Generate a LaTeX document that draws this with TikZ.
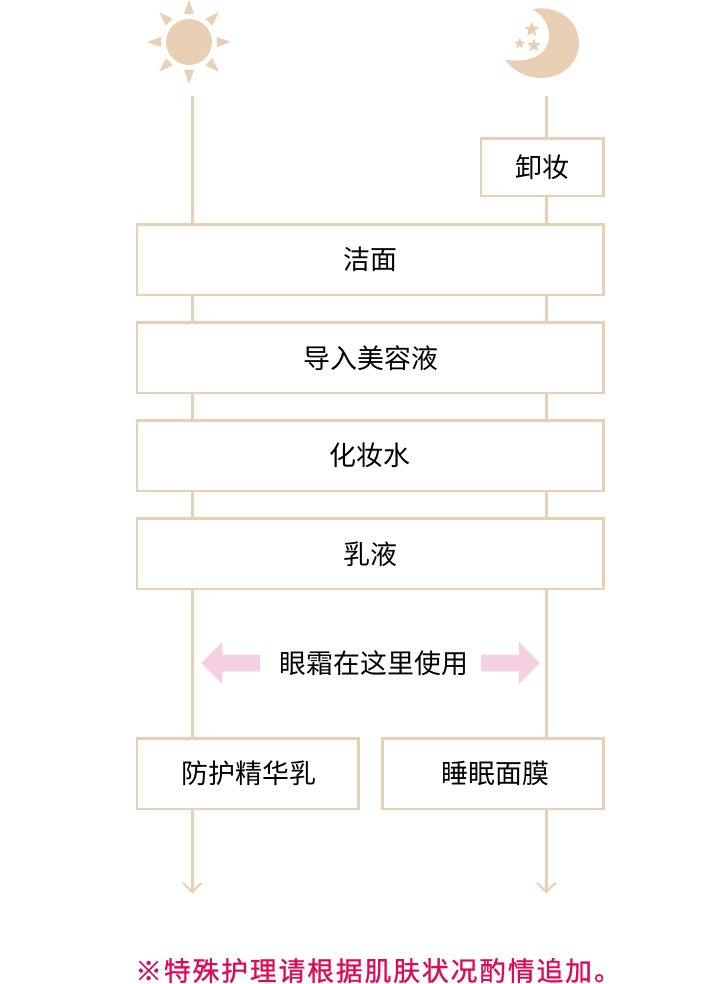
\documentclass[tikz,border=0pt]{standalone}
\usepackage{xcolor}
\usepackage{fontspec}
\setmainfont{Noto Sans CJK SC}
\newfontfamily\notefont[LetterSpace=7.5,FakeBold=1]{Noto Sans CJK SC}
\usepackage{tikz}
\usetikzlibrary{shapes.geometric,shapes.arrows,arrows.meta,positioning}
\definecolor{routetan}{HTML}{E9D0B5}
\definecolor{eyepink}{HTML}{F5D0E1}
\definecolor{notered}{HTML}{DF0A54}

\begin{document}
\begin{tikzpicture}[
  x=0.75pt,y=-0.75pt,
  stepbox/.style={rectangle,draw=routetan,fill=white,line width=1.9pt,outer sep=0pt,minimum width=350pt,minimum height=53pt,align=center,font=\fontsize{20.2pt}{24pt}\selectfont},
  halfbox/.style={stepbox,minimum width=166pt},
  smallbox/.style={stepbox,minimum width=92pt,minimum height=43pt},
  icon/.style={circle,fill=routetan,inner sep=0pt},
  tiny star/.style={star,star points=5,star point ratio=2.2,fill=routetan,inner sep=0pt},
  eyearrow/.style={single arrow,fill=eyepink,inner sep=6pt,single arrow head extend=9.5pt,minimum height=44pt,outer sep=0pt},
  route/.style={draw=routetan,line width=1.9pt},
  routeend/.style={route,-{Straight Barb[length=7pt,width=14pt,line width=1.5pt]}}
]
\useasboundingbox (0,0) rectangle (720,984);
% icons
\node[icon,minimum size=34.5pt] (sun) at (189,42) {};
\foreach \a in {0,45,...,315}
  \fill[routetan,shift={(sun.center)},rotate=\a] (28,-5)--(42,0)--(28,5)--cycle;
\fill[routetan] (532,9) .. controls (558,5) and (579,20) .. (579,43.5) .. controls (579,63) and (562,78) .. (541,78) .. controls (526,78) and (513,71) .. (505,59.5) .. controls (525,63) and (549,58) .. (549,35) .. controls (549,24) and (542,14) .. (532,9) -- cycle;
\node[tiny star,minimum size=11.5pt] (stara) at (531.7,29.5) {};
\node[tiny star,minimum size=10.5pt] (starb) at (534,45.5) {};
\node[tiny star,minimum size=8.5pt] (starc) at (519.7,43.5) {};
% steps
\node[stepbox] (wash) at (370.25,259.75) {洁面};
\node[smallbox,above left=21.25pt and 0pt of wash.north east] (remove) {卸妆};
\node[stepbox,below=20.5pt of wash] (serum) {\hspace{1pt}导入美容液};
\node[stepbox,below=20.5pt of serum] (toner) {化妆水};
\node[stepbox,below=20.5pt of toner] (lotion) {乳液};
\node[halfbox,below right=112pt and 0pt of lotion.south west] (day) {\hspace{2pt}防护精华乳};
\node[halfbox,below left=112pt and 0pt of lotion.south east] (night) {\hspace{4pt}睡眠面膜};
% eye cream
\node[font=\fontsize{20.2pt}{24pt}\selectfont,inner sep=0pt] (eye) at (374,663) {眼霜在这里使用};
\node[eyearrow,shape border rotate=180,left=14.5pt of eye] (eyeleft) {};
\node[eyearrow,right=9.5pt of eye] (eyeright) {};
% routes
\coordinate (daytop) at (192.3,96);
\coordinate (nighttop) at (546.3,96);
\coordinate (dayend) at (192.3,893.5);
\coordinate (nightend) at (546.3,893.5);
\draw[route] (daytop)--(daytop|-wash.north);
\draw[route] (nighttop)--(nighttop|-remove.north);
\draw[route] (nighttop|-remove.south)--(nighttop|-wash.north);
\foreach \up/\down in {wash/serum,serum/toner,toner/lotion,lotion/day}
  \draw[route] (daytop|-\up.south)--(daytop|-\down.north);
\foreach \up/\down in {wash/serum,serum/toner,toner/lotion,lotion/night}
  \draw[route] (nighttop|-\up.south)--(nighttop|-\down.north);
\draw[routeend] (daytop|-day.south)--(dayend);
\draw[routeend] (nighttop|-night.south)--(nightend);
% note
\node[anchor=west,inner sep=0pt,text=notered,font=\notefont\fontsize{20pt}{24pt}\selectfont] (note) at (135,970.5) {※特殊护理请根据肌肤状况酌情追加。};
\end{tikzpicture}
\end{document}
